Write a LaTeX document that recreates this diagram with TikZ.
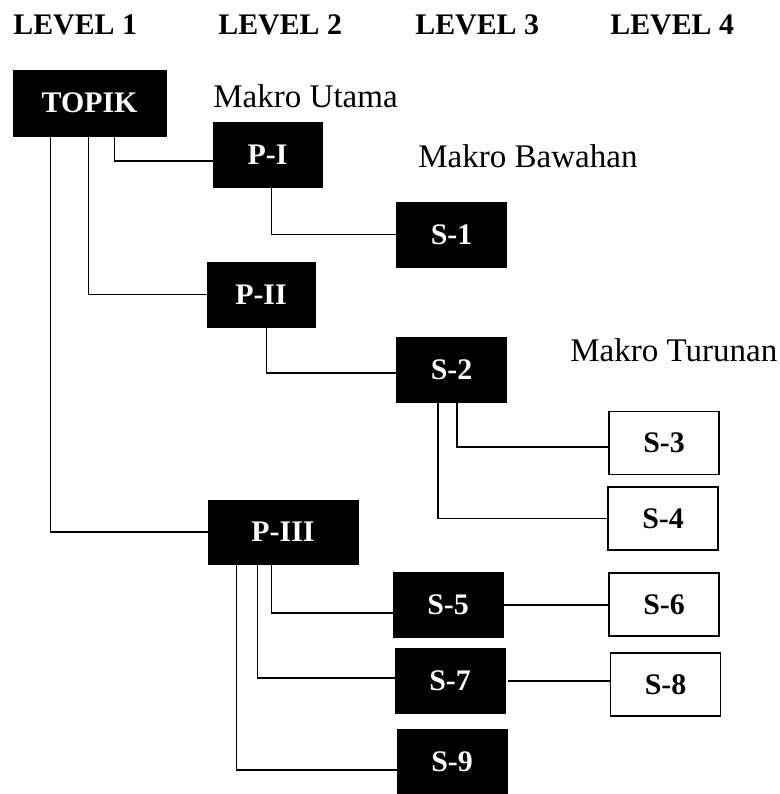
\documentclass[tikz,border=0pt]{standalone}
\usepackage{fontspec}
\setmainfont{Liberation Serif}
\usepackage{tikz}
\usetikzlibrary{positioning}
\tikzset{
  blk/.style={
    rectangle, draw=black, fill=black, text=white,
    minimum width=2.2cm, minimum height=1.3cm, inner sep=0pt,
    font=\fontsize{17}{20}\selectfont\bfseries},
  wht/.style={
    rectangle, draw=black, line width=1.1pt, fill=white,
    minimum width=2.2cm, minimum height=1.26cm, inner sep=0pt,
    font=\fontsize{17}{20}\selectfont\bfseries},
  lvl/.style={anchor=base west, inner sep=0pt,
    font=\fontsize{17}{20}\selectfont\bfseries},
  mnote/.style={anchor=base west, inner sep=0pt,
    font=\fontsize{18.8}{22}\selectfont},
  lnk/.style={line width=0.9pt},
}

\begin{document}
\begin{tikzpicture}[x=0.02cm, y=-0.02cm]

  \useasboundingbox (0,0) rectangle (780,794);

  % level headings
  \node[lvl] (lv1) at (13,35)  {LEVEL 1};
  \node[lvl] (lv2) at (218,35) {LEVEL 2};
  \node[lvl] (lv3) at (415,35) {LEVEL 3};
  \node[lvl] (lv4) at (610,35) {LEVEL 4};

  \node[mnote] (utama)   at (213,108) {Makro Utama};
  \node[mnote] (bawahan) at (418,167) {Makro Bawahan};
  \node[mnote] (turunan) at (570,361) {Makro Turunan};

  % level 1 and 2
  \node[blk, minimum width=3.06cm, minimum height=1.32cm] (topik) at (89.5,103) {TOPIK};
  \node[blk, minimum width=2.18cm] (p1) at (267.5,154.5) {P-I};
  \node[blk, minimum width=2.16cm] (p2) at (261,294.5)   {P-II};
  \node[blk, minimum width=3.0cm, minimum height=1.28cm] (p3) at (283,532) {P-III};

  % level 3
  \node[blk] (s1) at (451.5,234.5) {S-1};
  \node[blk] (s2) at (451.5,370)   {S-2};
  \node[blk] (s5) at (448,605)     {S-5};
  \node[blk] (s7) at (450,681)     {S-7};
  \node[blk] (s9) at (452,762)     {S-9};

  % level 4
  \node[wht] (s3) at (664,443)     {S-3};
  \node[wht] (s4) at (663,518.5)   {S-4};
  \node[wht] (s6) at (664,604.5)   {S-6};
  \node[wht] (s8) at (665.5,684.5) {S-8};

  \draw[lnk] ([xshift=0.76cm]topik.south west) |- (p3.west);
  \draw[lnk] ([xshift=1.52cm]topik.south west) |- (p2.west);
  \draw[lnk] ([xshift=2.04cm]topik.south west) |- ([yshift=-0.13cm]p1.west);
  \draw[lnk] ([xshift=1.18cm]p1.south west) |- (s1.west);
  \draw[lnk] ([xshift=1.2cm]p2.south west)  |- ([yshift=-0.06cm]s2.west);
  \draw[lnk] ([xshift=1.22cm]s2.south west) |- ([yshift=-0.08cm]s3.west);
  \draw[lnk] ([xshift=0.84cm]s2.south west) |- (s4.west);
  \draw[lnk] ([xshift=1.28cm]p3.south west) |- ([yshift=-0.16cm]s5.west);
  \draw[lnk] ([xshift=1.0cm]p3.south west)  |- ([yshift=0.06cm]s7.west);
  \draw[lnk] ([xshift=0.58cm]p3.south west) |- ([yshift=-0.16cm]s9.west);
  \draw[lnk] (s5.east) -- (s5.east -| s6.west);
  \draw[lnk] ([xshift=0.06cm]s7.east) -- (s7.east -| s8.west);

\end{tikzpicture}
\end{document}
